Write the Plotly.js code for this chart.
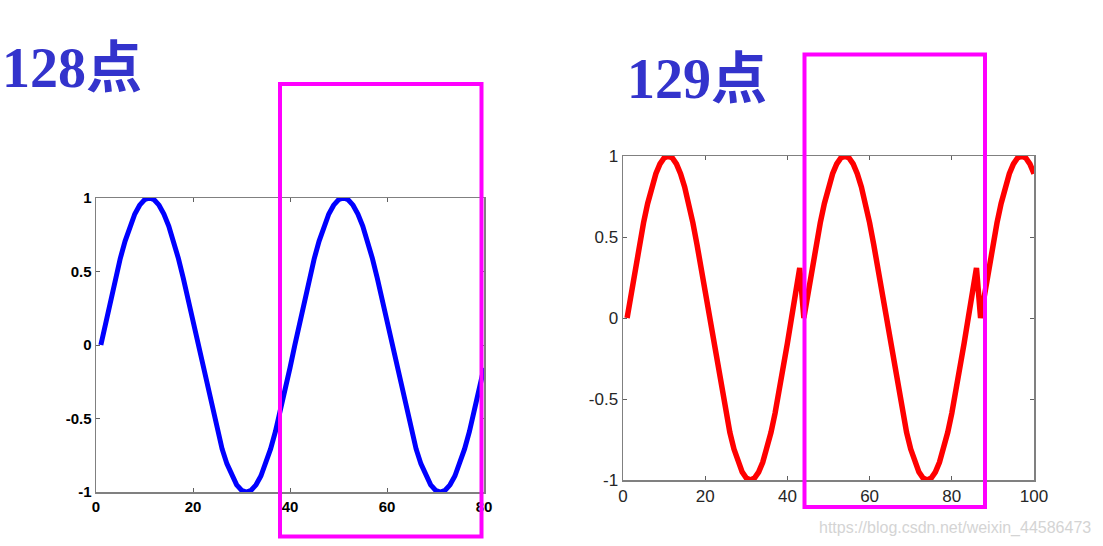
<!DOCTYPE html>
<html>
<head>
<meta charset="utf-8">
<script src="https://cdn.plot.ly/plotly-3.0.1.min.js"></script>
<style>html,body{margin:0;padding:0;background:#fff;}#chart{width:1103px;height:546px;}</style>
</head>
<body>
<div id="chart"></div>
<script>
// Values
const leftTitle = "128点";
const rightTitle = "129点";
const watermark = "https://blog.csdn.net/weixin_44586473";

const leftX = [1,2,3,4,5,6,7,8,9,10,11,12,13,14,15,16,17,18,19,20,21,22,23,24,25,26,27,28,29,30,31,32,33,34,35,36,37,38,39,40,41,42,43,44,45,46,47,48,49,50,51,52,53,54,55,56,57,58,59,60,61,62,63,64,65,66,67,68,69,70,71,72,73,74,75,76,77,78,79,80];
const leftY = [0,0.156,0.309,0.454,0.588,0.707,0.809,0.891,0.951,0.988,1,0.988,0.951,0.891,0.809,0.707,0.588,0.454,0.309,0.156,0,-0.156,-0.309,-0.454,-0.588,-0.707,-0.809,-0.891,-0.951,-0.988,-1,-0.988,-0.951,-0.891,-0.809,-0.707,-0.588,-0.454,-0.309,-0.156,
  0,0.156,0.309,0.454,0.588,0.707,0.809,0.891,0.951,0.988,1,0.988,0.951,0.891,0.809,0.707,0.588,0.454,0.309,0.156,0,-0.156,-0.309,-0.454,-0.588,-0.707,-0.809,-0.891,-0.951,-0.988,-1,-0.988,-0.951,-0.891,-0.809,-0.707,-0.588,-0.454,-0.309,-0.156];

const rightX = [1,2,3,4,5,6,7,8,9,10,11,12,13,14,15,16,17,18,19,20,21,22,23,24,25,26,27,28,29,30,31,32,33,34,35,36,37,38,39,40,41,42,43,44,45,46,47,48,49,50,51,52,53,54,55,56,57,58,59,60,61,62,63,64,65,66,67,68,69,70,71,72,73,74,75,76,77,78,79,80,81,82,83,84,85,86,87,88,89,90,91,92,93,94,95,96,97,98,99,100];
const rightY = [0,0.156,0.309,0.454,0.588,0.707,0.809,0.891,0.951,0.988,1,0.988,0.951,0.891,0.809,0.707,0.588,0.454,0.309,0.156,0,-0.156,-0.309,-0.454,-0.588,-0.707,-0.809,-0.891,-0.951,-0.988,-1,-0.988,-0.951,-0.891,-0.809,-0.707,-0.588,-0.454,-0.309,-0.156,0,0.156,0.309,
  0,0.156,0.309,0.454,0.588,0.707,0.809,0.891,0.951,0.988,1,0.988,0.951,0.891,0.809,0.707,0.588,0.454,0.309,0.156,0,-0.156,-0.309,-0.454,-0.588,-0.707,-0.809,-0.891,-0.951,-0.988,-1,-0.988,-0.951,-0.891,-0.809,-0.707,-0.588,-0.454,-0.309,-0.156,0,0.156,0.309,
  0,0.156,0.309,0.454,0.588,0.707,0.809,0.891,0.951,0.988,1,0.988,0.951,0.891];

const leftXTicks = [0,20,40,60,80];
const rightXTicks = [0,20,40,60,80,100];
const yTicks = [-1,-0.5,0,0.5,1];

const W = 1103, H = 546;
const px = v => v / W;
const py = v => 1 - v / H;

const traces = [
  {x: leftX, y: leftY, xaxis: 'x', yaxis: 'y', mode: 'lines', line: {color: '#0000ff', width: 5}, hoverinfo: 'skip'},
  {x: rightX, y: rightY, xaxis: 'x2', yaxis: 'y2', mode: 'lines', line: {color: '#ff0000', width: 5.5}, hoverinfo: 'skip'}
];

const axBase = {
  showline: true, mirror: 'ticks', linecolor: '#808080', linewidth: 1.5,
  ticks: 'inside', ticklen: 4, tickcolor: '#606060', tickwidth: 1,
  showgrid: false, zeroline: false, fixedrange: true
};
const leftFont = {family: 'Arial, "Liberation Sans", sans-serif', size: 15, color: '#000', weight: 'bold'};
const rightFont = {family: 'Arial, "Liberation Sans", sans-serif', size: 17, color: '#262626'};

const layout = {
  width: W, height: H,
  margin: {l: 0, r: 0, t: 0, b: 0},
  paper_bgcolor: '#fff', plot_bgcolor: '#fff',
  showlegend: false,
  xaxis: Object.assign({}, axBase, {domain: [px(96), px(484)], range: [0, 80], tickvals: leftXTicks, ticktext: leftXTicks.map(String), tickfont: leftFont, anchor: 'y'}),
  yaxis: Object.assign({}, axBase, {domain: [py(492), py(198)], range: [-1, 1], tickvals: yTicks, ticktext: yTicks.map(String), tickfont: leftFont, anchor: 'x'}),
  xaxis2: Object.assign({}, axBase, {domain: [px(623), px(1034)], range: [0, 100], tickvals: rightXTicks, ticktext: rightXTicks.map(String), tickfont: rightFont, anchor: 'y2'}),
  yaxis2: Object.assign({}, axBase, {domain: [py(480), py(156)], range: [-1, 1], tickvals: yTicks, ticktext: yTicks.map(String), tickfont: rightFont, anchor: 'x2'}),
  annotations: [
    {text: leftTitle, xref: 'paper', yref: 'paper', x: 0, y: py(68), xanchor: 'left', yanchor: 'middle', showarrow: false,
     font: {family: '"Liberation Serif", "Times New Roman", "Noto Sans CJK SC", serif', size: 56, color: '#3333cc', weight: 'bold'}},
    {text: rightTitle, xref: 'paper', yref: 'paper', x: px(625), y: py(79), xanchor: 'left', yanchor: 'middle', showarrow: false,
     font: {family: '"Liberation Serif", "Times New Roman", "Noto Sans CJK SC", serif', size: 56, color: '#3333cc', weight: 'bold'}},
    {text: watermark, xref: 'paper', yref: 'paper', x: px(1093), y: py(528), xanchor: 'right', yanchor: 'middle', showarrow: false,
     font: {family: 'Arial, "Liberation Sans", sans-serif', size: 16, color: '#d4d4d4'}}
  ],
  shapes: [
    {type: 'rect', xref: 'paper', yref: 'paper', x0: px(280), x1: px(481.5), y0: py(536.5), y1: py(84), line: {color: '#ff00ff', width: 4}},
    {type: 'rect', xref: 'paper', yref: 'paper', x0: px(804.5), x1: px(985), y0: py(507), y1: py(54.5), line: {color: '#ff00ff', width: 4}}
  ]
};

Plotly.newPlot('chart', traces, layout, {displayModeBar: false, staticPlot: true});
</script>
</body>
</html>
